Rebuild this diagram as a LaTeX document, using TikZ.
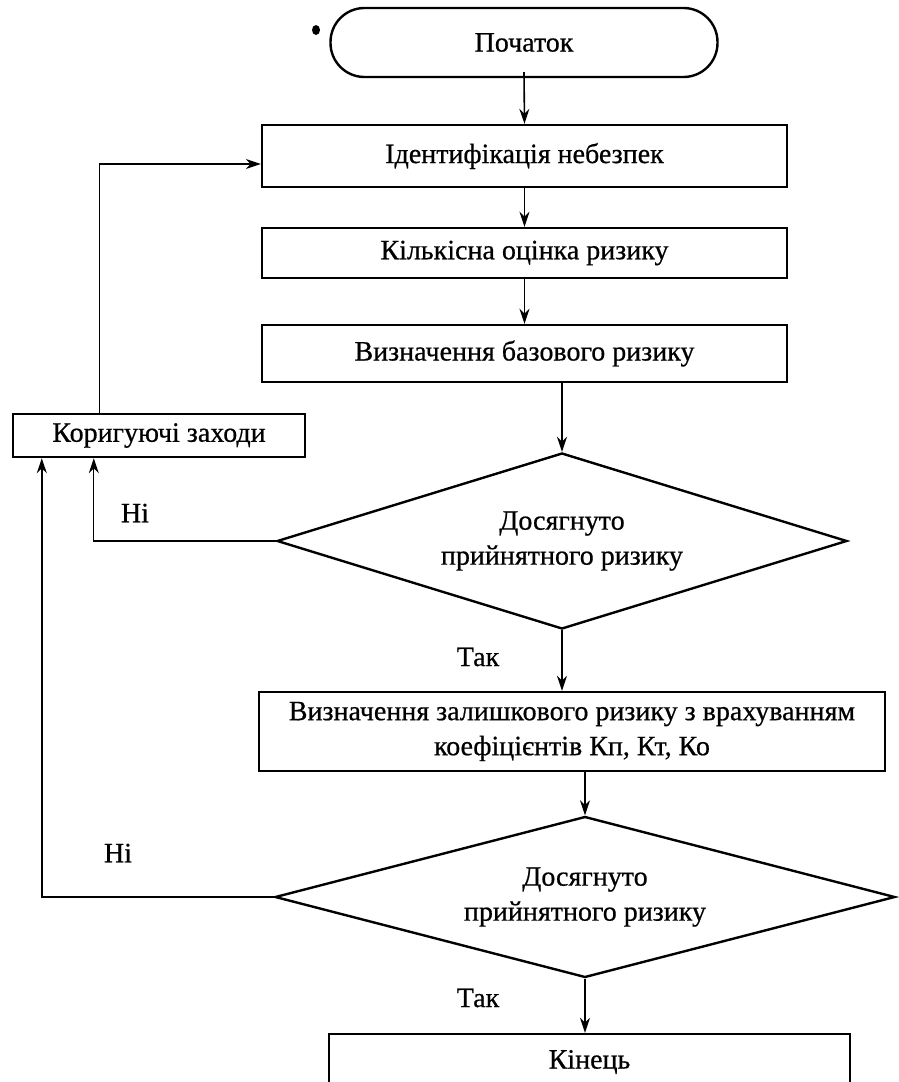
\documentclass[tikz,border=0pt]{standalone}
\usepackage{fontspec}
\setmainfont{Liberation Serif}[FakeBold=0.6]
\usetikzlibrary{shapes.geometric,arrows.meta,calc}
\begin{document}
\begin{tikzpicture}[x=1pt,y=-1pt,
  txt/.style={font=\fontsize{28}{35}\selectfont},
  box/.style={txt,draw,line width=2.4pt,inner sep=0pt,align=center},
  term/.style={box,rounded corners=34pt},
  dec/.style={txt,draw,diamond,line width=2.4pt,inner sep=0pt,align=center,shape aspect=3.2},
  arr/.style={-{Stealth[length=15pt,width=10pt]},line width=1.6pt},
  thin/.style={-{Stealth[length=15pt,width=10pt]},line width=1.2pt}]
\useasboundingbox (0,0) rectangle (899,1082);
\fill[white] (0,0) rectangle (899,1082);

\node[term,minimum width=387pt,minimum height=69pt] (start) at (524,42.5) {Початок};
\node[box,minimum width=525pt,minimum height=62pt] (b1) at (524.5,156) {Ідентифікація небезпек};
\node[box,minimum width=525pt,minimum height=50pt] (b2) at (524.5,253) {Кількісна оцінка ризику};
\node[box,minimum width=525pt,minimum height=57pt] (b3) at (524.5,353.5) {Визначення базового ризику};
\node[box,minimum width=292pt,minimum height=43pt] (korr) at (159,435.5) {Коригуючі заходи};
\node[dec,minimum width=570pt,minimum height=176pt] (d1) at (562,541) {Досягнуто\\прийнятного ризику};
\node[box,minimum width=626pt,minimum height=79pt] (b4) at (572,731.5) {Визначення залишкового ризику з врахуванням\\коефіцієнтів Кп, Кт, Ко};
\node[dec,minimum width=620pt,minimum height=161pt] (d2) at (585,897) {Досягнуто\\прийнятного ризику};
\node[box,minimum width=521pt,minimum height=56pt] (fin) at (589.5,1062) {Кінець};

\node[txt] (n1) at (135,513) {Ні};
\node[txt] (t1) at (478,657) {Так};
\node[txt] (n2) at (118,853) {Ні};
\node[txt] (t2) at (478,998) {Так};

\fill (316,30) ellipse (4pt and 5pt);

\draw[arr] ([yshift=6pt]start.south) -- (b1.north);
\draw[arr] (b1.south) -- (b2.north);
\draw[arr] (b2.south) -- (b3.north);
\draw[arr] (d1.north |- b3.south) -- (d1.north);
\draw[arr] (d1.south) -- (d1.south |- b4.north);
\draw[arr] (d2.north |- b4.south) -- (d2.north);
\draw[arr] (d2.south) -- (d2.south |- fin.north);

\draw[thin] (d1.west) -| ([xshift=82pt]korr.south west);
\draw[arr] (d2.west) -| ([xshift=30pt]korr.south west);
\draw[thin] ([xshift=88pt]korr.north west) |- ([yshift=-8pt]b1.west);
\end{tikzpicture}
\end{document}
